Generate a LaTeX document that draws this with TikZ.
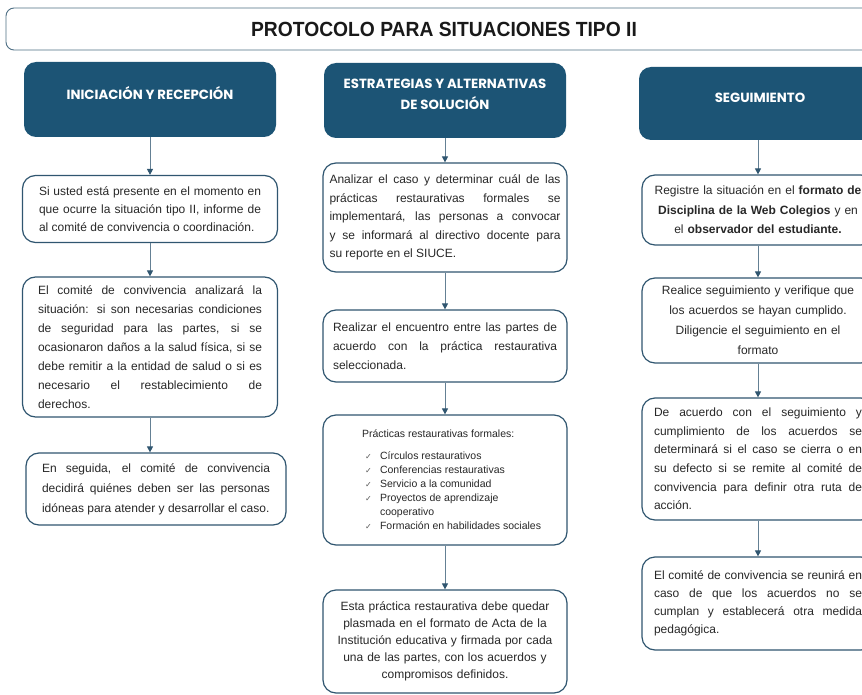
\documentclass[tikz,border=0pt]{standalone}
\usepackage{fontspec}
\setmainfont{Liberation Sans}
\newfontfamily\headfont{Poppins}
\newfontfamily\titlefont[FakeStretch=0.94]{Liberation Sans}
\newfontfamily\symfont{DejaVu Sans}
\usepackage{xcolor}
\definecolor{headblue}{RGB}{28,84,117}
\definecolor{edgeblue}{RGB}{48,86,112}
\definecolor{arrowgray}{RGB}{100,128,148}
\definecolor{bodytext}{RGB}{40,40,40}
\definecolor{checkgray}{RGB}{90,90,90}
\usepackage{tikz}
\usetikzlibrary{arrows.meta}
\hyphenpenalty=10000
\exhyphenpenalty=10000
\tolerance=9999
\emergencystretch=20pt
\hbadness=10000

\begin{document}
\begin{tikzpicture}[x=1pt,y=-1pt,
    head/.style={fill=headblue,rounded corners=12pt,text=white,align=center,inner sep=0pt,
      text depth=12pt,font=\headfont\bfseries\fontsize{13.3}{21}\selectfont},
    box/.style={draw=edgeblue,line width=1.2pt,rounded corners=13pt,fill=white,text=bodytext,
      inner xsep=0pt,inner ysep=2pt,font=\fontsize{12}{19}\selectfont},
    flow/.style={draw=arrowgray,line width=0.9pt,-{Triangle[length=6pt,width=6pt,color=edgeblue]}}]
  \def\ca{150} \def\cb{445} \def\cc{758}
  \def\chk{\makebox[18pt][l]{\hspace{3pt}{\symfont\color{checkgray}\fontsize{8}{10}\selectfont ✓}}}
  \clip (0,0) rectangle (862,695);
  \fill[white] (0,0) rectangle (862,695);

  \node[draw=edgeblue!85,line width=0.9pt,rounded corners=8pt,minimum width=876,minimum height=42,
    text=black!90,font=\titlefont\bfseries\fontsize{20.5}{24}\selectfont] (title) at (444,29)
    {PROTOCOLO PARA SITUACIONES TIPO II};

  \node[head,minimum width=252,minimum height=75] (h1) at (\ca,99.5) {INICIACIÓN Y RECEPCIÓN};
  \node[head,minimum width=242,minimum height=75] (h2) at (\cb,100.5) {ESTRATEGIAS Y ALTERNATIVAS\\DE SOLUCIÓN};
  \node[head,minimum width=242,minimum height=73] (h3) at (760,103.5) {SEGUIMIENTO};

  \node[box,minimum width=255,minimum height=67,text width=222,align=justify,
    font=\fontsize{12}{18}\selectfont] (a1) at (\ca,209)
    {Si usted está presente en el momento en\linebreak que ocurre la situación tipo II, informe de\linebreak al comité de convivencia o coordinación.};
  \node[box,minimum width=255,minimum height=140,text width=224,align=justify] (a2) at (\ca,347)
    {El comité de convivencia analizará la\linebreak situación: si son necesarias condiciones\linebreak de seguridad para las partes, si se\linebreak ocasionaron daños a la salud física, si se\linebreak debe remitir a la entidad de salud o si es\linebreak necesario el restablecimiento de\linebreak derechos.};
  \node[box,minimum width=260,minimum height=72,text width=228,align=justify,
    font=\fontsize{12}{20}\selectfont] (a3) at (156,489)
    {En seguida, el comité de convivencia\linebreak decidirá quiénes deben ser las personas\linebreak idóneas para atender y desarrollar el caso.};

  \node[box,minimum width=244,minimum height=109,text width=231,align=justify,
    font=\fontsize{12}{18.5}\selectfont] (b1) at (\cb,217.5)
    {Analizar el caso y determinar cuál de las\linebreak prácticas restaurativas formales se\linebreak implementará, las personas a convocar\linebreak y se informará al directivo docente para\linebreak su reporte en el SIUCE.};
  \node[box,minimum width=244,minimum height=72,text width=224,align=justify] (b2) at (\cb,346)
    {Realizar el encuentro entre las partes de\linebreak acuerdo con la práctica restaurativa\linebreak seleccionada.};
  \node[box,minimum width=244,minimum height=130,font=\fontsize{10.5}{14}\selectfont] (b3) at (\cb,480)
    {\hspace*{20pt}\parbox{186pt}{\raggedright
      Prácticas restaurativas formales:\\[8pt]
      \chk Círculos restaurativos\\
      \chk Conferencias restaurativas\\
      \chk Servicio a la comunidad\\
      \chk Proyectos de aprendizaje\\
      \hspace*{18pt}cooperativo\\
      \chk Formación en habilidades sociales}};
  \node[box,minimum width=244,minimum height=103,text width=225,align=center,
    font=\fontsize{12}{17}\selectfont] (b4) at (\cb,641.5)
    {Esta práctica restaurativa debe quedar\\plasmada en el formato de Acta de la\\Institución educativa y firmada por cada\\una de las partes, con los acuerdos y\\compromisos definidos.};

  \node[box,minimum width=232,minimum height=70,text width=224,align=center,
    font=\fontsize{12}{19.5}\selectfont] (c1) at (\cc,210)
    {Registre la situación en el \textbf{formato de}\\\textbf{Disciplina de la Web Colegios} y en\\el \textbf{observador del estudiante.}};
  \node[box,minimum width=232,minimum height=85,text width=220,align=center,
    font=\fontsize{12}{20}\selectfont] (c2) at (\cc,320.5)
    {Realice seguimiento y verifique que\\los acuerdos se hayan cumplido.\\Diligencie el seguimiento en el\\formato};
  \node[box,minimum width=232,minimum height=122,text width=208,align=justify,
    font=\fontsize{12}{18.6}\selectfont] (c3) at (\cc,459)
    {De acuerdo con el seguimiento y\linebreak cumplimiento de los acuerdos se\linebreak determinará si el caso se cierra o en\linebreak su defecto si se remite al comité de\linebreak convivencia para definir otra ruta de\linebreak acción.};
  \node[box,minimum width=232,minimum height=93,text width=208,align=justify,
    font=\fontsize{12}{18}\selectfont] (c4) at (\cc,603.5)
    {El comité de convivencia se reunirá en\linebreak caso de que los acuerdos no se\linebreak cumplan y establecerá otra medida\linebreak pedagógica.};

  \draw[flow] (h1.south) -- (h1.south |- a1.north);
  \draw[flow] (a1.south) -- (a1.south |- a2.north);
  \draw[flow] (a2.south) -- (a2.south |- a3.north);
  \draw[flow] (h2.south) -- (h2.south |- b1.north);
  \draw[flow] (b1.south) -- (b1.south |- b2.north);
  \draw[flow] (b2.south) -- (b2.south |- b3.north);
  \draw[flow] (b3.south) -- (b3.south |- b4.north);
  \draw[flow] (c1.north |- h3.south) -- (c1.north);
  \draw[flow] (c1.south) -- (c1.south |- c2.north);
  \draw[flow] (c2.south) -- (c2.south |- c3.north);
  \draw[flow] (c3.south) -- (c3.south |- c4.north);
\end{tikzpicture}
\end{document}
